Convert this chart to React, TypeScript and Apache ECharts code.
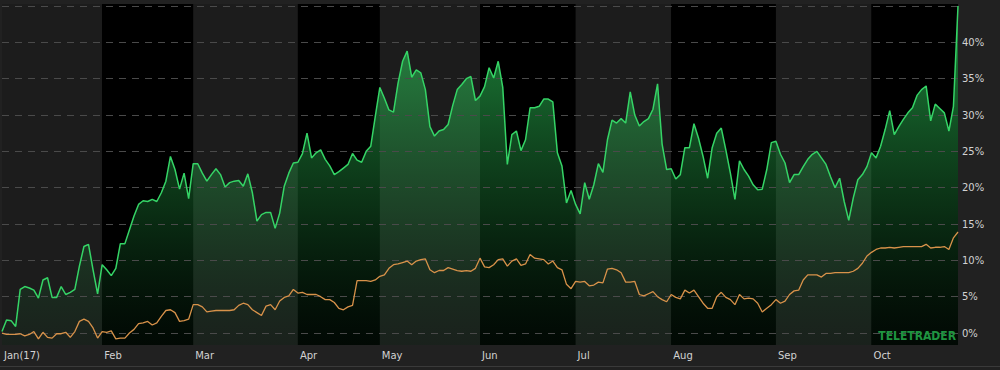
import React, { useEffect, useRef } from 'react';
import * as echarts from 'echarts';

const months = ['Jan(17)', 'Feb', 'Mar', 'Apr', 'May', 'Jun', 'Jul', 'Aug', 'Sep', 'Oct'];
const monthStarts = [0, 22, 42, 65, 83, 105, 126, 147, 170, 191];

const greenValues = [
  0.2, 1.8, 1.7, 0.9, 6.0, 6.4, 6.2, 5.9, 4.8, 7.3,
  7.6, 4.9, 4.9, 6.4, 5.3, 5.6, 6.0, 9.2, 11.9, 12.2,
  8.7, 5.4, 9.4, 8.7, 7.9, 8.9, 12.3, 12.3, 14.2, 16.1,
  17.7, 18.2, 18.1, 18.4, 18.1, 19.3, 20.9, 24.3, 22.5, 19.8,
  22.0, 18.5, 23.3, 23.3, 22.0, 20.9, 21.8, 22.6, 21.8, 20.1,
  20.7, 20.9, 21.0, 20.2, 21.9, 19.3, 15.4, 16.3, 16.6, 16.6,
  14.4, 16.5, 20.2, 22.0, 23.4, 23.5, 24.7, 27.5, 24.1, 24.8,
  25.2, 23.9, 23.0, 21.8, 22.2, 22.7, 23.2, 24.7, 23.8, 23.5,
  25.0, 25.7, 29.8, 33.8, 32.3, 30.7, 30.4, 34.4, 37.4, 38.8,
  35.2, 36.2, 35.8, 33.5, 28.4, 27.1, 27.8, 28.0, 28.7, 31.3,
  33.5, 34.2, 35.0, 35.3, 32.0, 32.6, 33.9, 36.5, 35.1, 37.4,
  33.8, 23.2, 27.3, 27.8, 25.1, 26.6, 31.0, 31.0, 31.2, 32.2,
  32.2, 31.8, 24.8, 23.0, 17.9, 19.6, 17.7, 16.4, 20.7, 18.4,
  20.4, 23.3, 22.1, 26.6, 29.3, 28.9, 29.5, 28.9, 33.2, 30.0,
  28.5, 29.1, 29.5, 30.8, 34.3, 26.0, 22.5, 22.6, 21.2, 21.8,
  25.5, 25.5, 28.8, 26.8, 24.3, 21.3, 25.5, 27.5, 28.2, 25.2,
  22.0, 18.4, 23.7, 22.5, 21.6, 20.4, 19.7, 19.8, 22.5, 26.2,
  26.4, 24.6, 23.4, 20.7, 21.8, 21.8, 22.9, 23.9, 24.6, 25.0,
  24.1, 23.2, 21.5, 20.0, 21.3, 18.1, 15.5, 18.6, 21.1, 21.8,
  22.9, 24.8, 24.1, 25.7, 28.0, 30.6, 27.3, 28.4, 29.4, 30.3,
  31.0, 32.7, 33.5, 34.0, 29.2, 31.5, 30.9, 30.3, 27.8, 31.2,
  45.0,
];

const orangeValues = [
  0.0, -0.2, -0.2, -0.2, -0.1, -0.4, -0.2, 0.2, -0.8, 0.1,
  -0.6, -0.7, -0.1, -0.1, 0.1, -0.6, 0.2, 1.6, 1.9, 1.6,
  0.7, -0.7, 0.2, 0.1, 0.3, -0.8, -0.7, -0.7, 0.0, 0.5,
  1.3, 1.4, 1.6, 1.1, 1.4, 2.3, 3.1, 3.2, 2.8, 1.6,
  1.7, 1.9, 3.9, 3.9, 3.6, 2.9, 3.0, 3.1, 3.1, 3.1,
  3.1, 3.2, 3.8, 4.1, 3.9, 3.2, 2.8, 2.4, 3.7, 3.9,
  3.2, 4.4, 4.9, 5.1, 6.0, 5.5, 5.6, 5.3, 5.3, 5.3,
  5.0, 4.6, 4.6, 4.2, 3.4, 3.2, 3.6, 3.8, 7.2, 7.2,
  7.2, 7.1, 7.3, 7.8, 8.0, 8.9, 9.4, 9.5, 9.7, 9.9,
  9.4, 9.9, 10.1, 10.2, 8.7, 8.3, 8.6, 8.6, 9.0, 8.8,
  8.6, 8.5, 8.6, 8.5, 8.9, 10.3, 9.1, 9.0, 9.4, 10.1,
  10.2, 9.2, 9.9, 10.2, 9.3, 9.5, 10.8, 10.3, 10.2, 10.1,
  9.5, 9.9, 9.0, 8.7, 6.7, 6.1, 7.1, 7.0, 7.1, 6.5,
  6.6, 7.0, 6.9, 8.8, 8.9, 8.7, 8.3, 7.0, 7.0, 7.1,
  5.3, 5.1, 5.4, 5.7, 5.0, 4.6, 4.3, 5.3, 4.9, 4.7,
  5.9, 5.5, 5.9, 5.0, 4.1, 3.4, 3.4, 5.0, 5.6, 4.9,
  4.6, 3.9, 5.3, 4.7, 4.8, 4.7, 4.1, 2.9, 3.4, 3.9,
  4.6, 4.1, 4.4, 5.3, 5.8, 5.9, 7.3, 8.0, 8.0, 8.0,
  7.7, 8.2, 8.2, 8.3, 8.3, 8.3, 8.3, 8.5, 8.9, 9.6,
  10.6, 11.1, 11.5, 11.7, 11.7, 11.8, 11.7, 11.8, 11.9, 11.9,
  11.9, 11.9, 11.9, 12.2, 11.7, 11.8, 11.8, 11.9, 11.5, 13.1,
  13.9,
];

const yTickValues = [0, 5, 10, 15, 20, 25, 30, 35, 40];
const gridLevels = [0, 5, 10, 15, 20, 25, 30, 35, 40, 45];
const logoText = 'TELETRADER';

export default function App() {
  const ref = useRef<HTMLDivElement>(null);

  useEffect(() => {
    document.body.style.margin = '0';
    const chart = echarts.init(ref.current as HTMLDivElement, null, { renderer: 'svg' });
    const n = greenValues.length;
    const categories = greenValues.map((_, i) => String(i));
    const labelAt: Record<number, string> = {};
    monthStarts.forEach((s, k) => {
      labelAt[s] = months[k];
    });
    const bands = monthStarts.map((s, k) => [
      { xAxis: s, itemStyle: { color: k % 2 === 0 ? '#1c1c1c' : '#000000' } },
      { xAxis: k + 1 < monthStarts.length ? monthStarts[k + 1] : n - 1 },
    ]);

    chart.setOption({
      animation: false,
      backgroundColor: '#212121',
      grid: {
        left: 2,
        right: 42,
        top: 4,
        bottom: 25,
        show: true,
        backgroundColor: '#000000',
        borderWidth: 0,
      },
      xAxis: {
        type: 'category',
        data: categories,
        boundaryGap: false,
        axisLine: { show: false },
        axisTick: { show: false },
        splitLine: { show: false },
        axisLabel: {
          interval: (i: number) => labelAt[i] !== undefined,
          formatter: (_v: string, i: number) => labelAt[i] ?? '',
          align: 'left',
          color: '#d2d2d2',
          fontSize: 10,
          fontFamily: 'DejaVu Sans',
          margin: 5,
          padding: [0, 0, 0, 2],
        },
      },
      yAxis: {
        type: 'value',
        position: 'right',
        min: -1.65,
        max: 45.28,
        splitLine: { show: false },
        axisLine: { show: false },
        axisTick: { show: false },
        axisLabel: {
          customValues: yTickValues,
          formatter: '{value}%',
          color: '#d2d2d2',
          fontSize: 10,
          fontFamily: 'DejaVu Sans',
          margin: 4,
        },
      },
      series: [
        {
          type: 'line',
          data: greenValues,
          z: 2,
          symbol: 'none',
          silent: true,
          lineStyle: { width: 0, opacity: 0 },
          areaStyle: {
            origin: 'start',
            color: new echarts.graphic.LinearGradient(0, 0, 0, 1, [
              { offset: 0, color: 'rgba(45,200,90,0.92)' },
              { offset: 0.25, color: 'rgba(40,175,78,0.78)' },
              { offset: 0.6, color: 'rgba(30,135,58,0.5)' },
              { offset: 1, color: 'rgba(12,70,30,0.18)' },
            ]),
          },
          markArea: { silent: true, z: 1, data: bands },
          markLine: {
            silent: true,
            z: 2.5,
            symbol: ['none', 'none'],
            label: { show: false },
            lineStyle: { type: [7, 6], color: '#4a4a4a', width: 1 },
            data: gridLevels.map((v) => ({ yAxis: v })),
          },
        },
        {
          type: 'line',
          data: greenValues,
          z: 3,
          symbol: 'none',
          silent: true,
          lineStyle: { width: 1.5, color: '#35d466' },
        },
        {
          type: 'line',
          data: orangeValues,
          z: 4,
          symbol: 'none',
          silent: true,
          lineStyle: { width: 1.3, color: '#d8924a' },
        },
      ],
      graphic: [
        {
          type: 'text',
          z: 10,
          style: {
            text: logoText,
            x: 956,
            y: 342,
            align: 'right',
            verticalAlign: 'bottom',
            fill: '#1f9440',
            font: 'bold 12px "DejaVu Sans Condensed", "DejaVu Sans"',
          },
        },
        {
          type: 'rect',
          shape: { x: 0, y: 366, width: 1000, height: 1 },
          style: { fill: '#3a3a3a' },
        },
      ],
    });

    return () => {
      chart.dispose();
    };
  }, []);

  return (
    <div
      ref={ref}
      style={{ position: 'fixed', left: 0, top: 0, width: 1000, height: 370 }}
    />
  );
}
